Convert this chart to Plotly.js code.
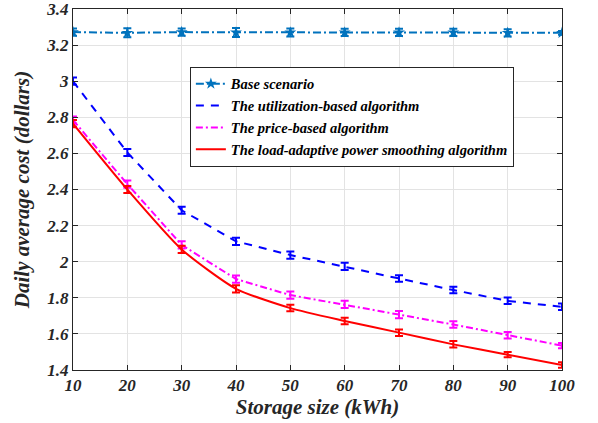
<!DOCTYPE html>
<html>
<head>
<meta charset="utf-8">
<script src="https://cdn.plot.ly/plotly-3.0.1.min.js"></script>
<style>body{margin:0;padding:0;background:#fff}#chart{width:598px;height:423px}</style>
</head>
<body>
<div id="chart"></div>
<script>
const storageSize = [10, 20, 30, 40, 50, 60, 70, 80, 90, 100];
const baseCost = [3.272, 3.268, 3.272, 3.27, 3.27, 3.27, 3.27, 3.27, 3.268, 3.268];
const baseErr = [0.02, 0.025, 0.02, 0.025, 0.022, 0.02, 0.02, 0.02, 0.02, 0.01];
const utilCost = [3.0, 2.605, 2.285, 2.113, 2.037, 1.974, 1.907, 1.843, 1.783, 1.75];
const utilErr = [0.02, 0.02, 0.02, 0.02, 0.02, 0.02, 0.018, 0.018, 0.018, 0.018];
const priceCost = [2.785, 2.43, 2.093, 1.904, 1.815, 1.763, 1.707, 1.652, 1.592, 1.535];
const priceErr = [0.02, 0.02, 0.02, 0.02, 0.02, 0.02, 0.02, 0.018, 0.018, 0.015];
const loadCost = [2.765, 2.4, 2.068, 1.85, 1.743, 1.672, 1.607, 1.542, 1.485, 1.428];
const loadErr = [0.02, 0.02, 0.02, 0.02, 0.018, 0.018, 0.018, 0.018, 0.015, 0.015];
const names = ['Base scenario', 'The utilization-based algorithm', 'The price-based algorithm', 'The load-adaptive power smoothing algorithm'];
const xTicks = [10, 20, 30, 40, 50, 60, 70, 80, 90, 100];
const yTicks = [1.4, 1.6, 1.8, 2, 2.2, 2.4, 2.6, 2.8, 3, 3.2, 3.4];

function err(arr, color) {
  return {type: 'data', array: arr, visible: true, color: color, thickness: 2, width: 4};
}
const traces = [
  {x: storageSize, y: baseCost, name: names[0], mode: 'lines+markers',
   line: {color: '#0072BD', width: 2, dash: '8px,3px,2px,3px'},
   marker: {symbol: 'star', size: 9, color: '#0072BD'}, error_y: err(baseErr, '#0072BD')},
  {x: storageSize, y: utilCost, name: names[1], mode: 'lines',
   line: {color: '#0000FF', width: 2, dash: '8px,7px'}, error_y: err(utilErr, '#0000FF')},
  {x: storageSize, y: priceCost, name: names[2], mode: 'lines',
   line: {color: '#FF00FF', width: 2, dash: '7px,3px,2px,3px'}, error_y: err(priceErr, '#FF00FF')},
  {x: storageSize, y: loadCost, name: names[3], mode: 'lines',
   line: {color: '#FF0000', width: 2, shape: 'spline', smoothing: 0.6}, error_y: err(loadErr, '#FF0000')}
];
const serif = 'Liberation Serif, Times New Roman, serif';
const tickFont = {family: serif, size: 17, color: '#262626', weight: 'bold', style: 'italic'};
const titleFont = {family: serif, size: 21, color: '#262626', weight: 'bold', style: 'italic'};
const layout = {
  width: 598, height: 423,
  margin: {l: 73, r: 36, t: 9, b: 53},
  paper_bgcolor: '#fff', plot_bgcolor: '#fff',
  showlegend: true,
  legend: {x: 0.239, y: 0.84, xanchor: 'left', yanchor: 'top', bordercolor: '#262626', borderwidth: 1,
           bgcolor: '#fff', font: {family: serif, size: 14.5, color: '#000', weight: 'bold', style: 'italic'},
           tracegroupgap: 0, itemwidth: 30},
  xaxis: {range: [10, 100], tickvals: xTicks, ticktext: xTicks.map(String), tickfont: tickFont,
          ticklabeloverflow: 'allow',
          showgrid: true, gridcolor: '#e3e3e3', gridwidth: 1, zeroline: false,
          showline: true, linecolor: '#262626', linewidth: 1, mirror: 'allticks', ticks: 'inside', ticklen: 5, tickcolor: '#262626',
          title: {text: 'Storage size (kWh)', font: titleFont, standoff: 4}},
  yaxis: {range: [1.4, 3.4], tickvals: yTicks, ticktext: yTicks.map(v => String(v)), tickfont: tickFont,
          ticklabeloverflow: 'allow',
          showgrid: true, gridcolor: '#e3e3e3', gridwidth: 1, zeroline: false,
          showline: true, linecolor: '#262626', linewidth: 1, mirror: 'allticks', ticks: 'inside', ticklen: 5, tickcolor: '#262626',
          title: {text: 'Daily average cost (dollars)', font: titleFont, standoff: 10}}
};
Plotly.newPlot('chart', traces, layout, {displayModeBar: false, staticPlot: true});
</script>
</body>
</html>
